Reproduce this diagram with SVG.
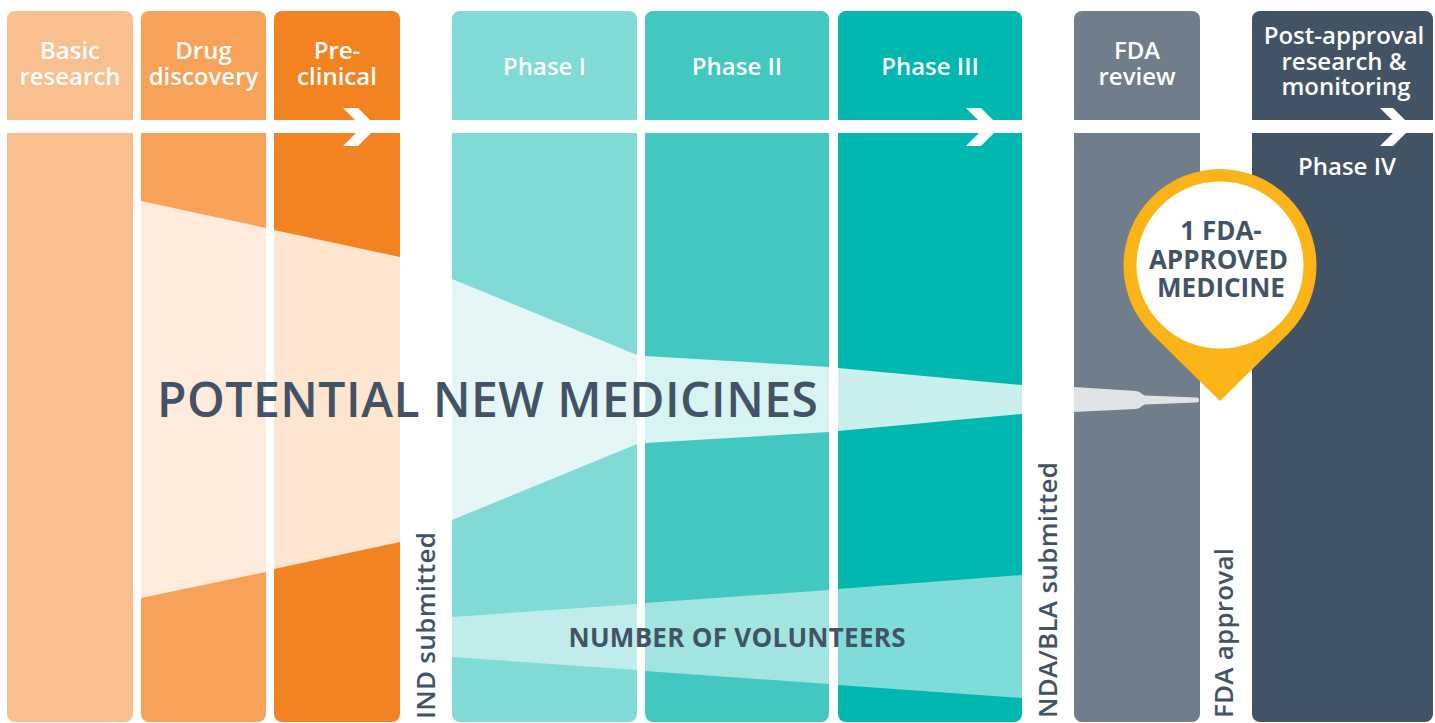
<svg xmlns="http://www.w3.org/2000/svg" width="1435" height="723" viewBox="0 0 1435 723">
<style>
  .hdr { font-family: "Open Sans", "Noto Sans", "Liberation Sans", sans-serif; font-weight: 600; font-size: 24px; fill: #ffffff; text-anchor: middle; }
  .dark { font-family: "Open Sans", "Noto Sans", "Liberation Sans", sans-serif; fill: #435366; }
  .vert { font-weight: 600; font-size: 26px; }
  .funnel { fill: #ffffff; fill-opacity: 0.79; }
  .vol { fill: #ffffff; fill-opacity: 0.5; }
  .chev { fill: #ffffff; }
</style>
<rect width="1435" height="723" fill="#ffffff"/>

<g id="col-basic-research">
  <rect x="7" y="11" width="126" height="711" rx="8" fill="#F9BF8F"/>
</g>
<g id="col-drug-discovery">
  <rect x="141" y="11" width="125" height="711" rx="8" fill="#F7A258"/>
  <polygon class="funnel" points="141,201 266,228 266,572 141,598"/>
</g>
<g id="col-preclinical">
  <rect x="274" y="11" width="126" height="711" rx="8" fill="#F38321"/>
  <polygon class="funnel" points="274,230 400,257 400,542 274,569"/>
</g>
<g id="col-phase1">
  <rect x="452" y="11" width="185" height="711" rx="8" fill="#80DAD6"/>
  <polygon class="funnel" points="452,279 637,355 637,444 452,520"/>
  <polygon class="vol" points="452,617 637,604 637,670 452,657"/>
</g>
<g id="col-phase2">
  <rect x="645" y="11" width="184" height="711" rx="8" fill="#43C8C1"/>
  <polygon class="funnel" points="645,356 829,367 829,432 645,443"/>
  <polygon class="vol" points="645,603 829,590 829,684 645,671"/>
</g>
<g id="col-phase3">
  <rect x="838" y="11" width="184" height="711" rx="8" fill="#00B8B0"/>
  <polygon class="funnel" points="838,368 1022,385 1022,414 838,431"/>
  <polygon class="vol" points="838,589 1022,575 1022,698 838,685"/>
</g>
<g id="col-fda-review">
  <rect x="1074" y="11" width="126" height="711" rx="8" fill="#707D8A"/>
  <path d="M1074,387 L1136,391 Q1140,391.5 1142,394 L1145,395.5 L1196.5,397.5 A2.5,2.5 0 0 1 1196.5,402.5 L1145,404.5 L1142,406 Q1140,408.5 1136,409 L1074,412 Z" fill="#E0E4E7"/>
</g>
<g id="col-post-approval">
  <rect x="1252" y="11" width="181" height="711" rx="8" fill="#435366"/>
</g>

<g id="timeline-band">
  <rect x="0" y="120" width="1435" height="13" fill="#ffffff"/>
  <polygon class="chev" points="343,108 358,108 377,127 358,146 343,146 362,127"/>
  <polygon class="chev" points="966,108 981,108 1000,127 981,146 966,146 985,127"/>
  <polygon class="chev" points="1380,108 1393,108 1412,127 1393,146 1380,146 1399,127"/>
</g>

<g id="headers">
  <text class="hdr" y="58.5"><tspan x="70">Basic</tspan><tspan x="70" dy="26.5">research</tspan></text>
  <text class="hdr" y="58.5"><tspan x="203.5">Drug</tspan><tspan x="203.5" dy="26.5">discovery</tspan></text>
  <text class="hdr" y="58.5"><tspan x="337">Pre-</tspan><tspan x="337" dy="26.5">clinical</tspan></text>
  <text class="hdr" x="544.5" y="75">Phase I</text>
  <text class="hdr" x="737" y="75">Phase II</text>
  <text class="hdr" x="930" y="75">Phase III</text>
  <text class="hdr" y="58.5"><tspan x="1137">FDA</tspan><tspan x="1137" dy="26.5">review</tspan></text>
  <text class="hdr" y="44"><tspan x="1344">Post-approval</tspan><tspan x="1344" dy="25.5">research &amp;</tspan><tspan x="1346" dy="25.5">monitoring</tspan></text>
  <text class="hdr" x="1347" y="175">Phase IV</text>
</g>

<g id="labels">
  <text class="dark" x="487.5" y="417" font-size="48" font-weight="600" text-anchor="middle" textLength="661">POTENTIAL NEW MEDICINES</text>
  <text class="dark" x="737" y="646.5" font-size="26" font-weight="700" text-anchor="middle" textLength="337">NUMBER OF VOLUNTEERS</text>
  <text class="dark vert" transform="translate(435,719) rotate(-90)" x="0" y="0" textLength="187">IND submitted</text>
  <text class="dark vert" transform="translate(1057,718) rotate(-90)" x="0" y="0" textLength="256">NDA/BLA submitted</text>
  <text class="dark vert" transform="translate(1233,718) rotate(-90)" x="0" y="0" textLength="170">FDA approval</text>
</g>

<g id="approved-pin">
  <path d="M1220,401 L1151.5,333.5 A96.5,96.5 0 1 1 1288.5,333.5 Z" fill="#FBB417"/>
  <circle cx="1220" cy="265" r="83.5" fill="#ffffff"/>
  <text class="dark" y="240" font-size="26" font-weight="700" text-anchor="middle"><tspan x="1221">1 FDA-</tspan><tspan x="1218.5" dy="28.5">APPROVED</tspan><tspan x="1221" dy="28.5">MEDICINE</tspan></text>
</g>
</svg>
